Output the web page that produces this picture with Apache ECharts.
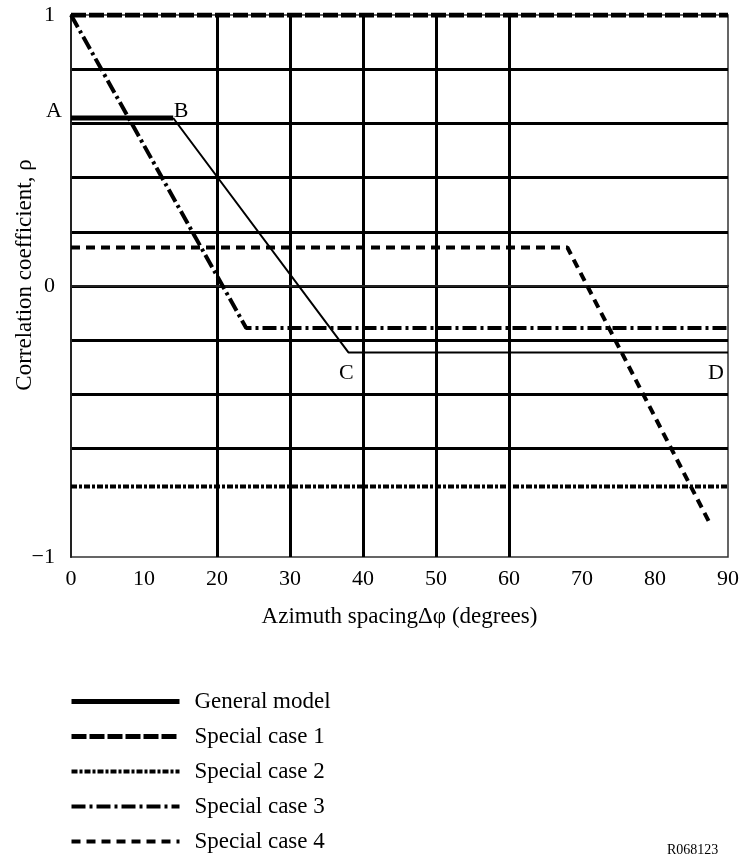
<!DOCTYPE html>
<html>
<head>
<meta charset="utf-8">
<script src="https://cdn.jsdelivr.net/npm/echarts@6/dist/echarts.min.js"></script>
<style>
html,body{margin:0;padding:0;background:#fff;}
#c{width:743px;height:854px;}
</style>
</head>
<body>
<div id="c"></div>
<script>
// Data
const seriesNames = ['General model', 'Special case 1', 'Special case 2', 'Special case 3', 'Special case 4'];
const generalAB = [[0, 0.62], [14, 0.62]];
const generalBCD = [[14, 0.62], [38, -0.245], [90, -0.245]];
const special1 = [[0, 1], [90, 1]];
const special2 = [[0, -0.74], [90, -0.74]];
const special3 = [[0, 1], [24, -0.155], [90, -0.155]];
const special4 = [[0, 0.142], [68, 0.142], [87.5, -0.875]];
const pointLabels = [['A', 0, 0.62], ['B', 14, 0.62], ['C', 38, -0.245], ['D', 90, -0.245]];
const xTicks = [0, 10, 20, 30, 40, 50, 60, 70, 80, 90];
const yTickLabels = {'1': '1', '0': '0', '-1': '\u22121'};

const FONT = 'Liberation Serif';
const chart = echarts.init(document.getElementById('c'), null, {renderer: 'canvas'});

const labelOffsets = {A: [-17, -7], B: [8, -7], C: [-2, 21], D: [-12, 21]};
const T = 'rgba(0,0,0,0)';

const option = {
  backgroundColor: '#fff',
  animation: false,
  textStyle: {fontFamily: FONT, color: '#000'},
  grid: {left: 71, right: 15, top: 15, bottom: 297, show: true, borderColor: '#333', borderWidth: 1.5,
         containLabel: false, outerBoundsMode: 'none'},
  xAxis: {
    type: 'value', min: 0, max: 90, interval: 10,
    name: 'Azimuth spacing\u0394\u03c6 (degrees)', nameLocation: 'middle', nameGap: 48, nameMoveOverlap: false,
    nameTextStyle: {fontFamily: FONT, fontSize: 23, color: '#000'},
    axisLine: {show: true, lineStyle: {color: '#222', width: 2}},
    axisTick: {show: false},
    axisLabel: {fontFamily: FONT, fontSize: 22, color: '#000', margin: 11,
      formatter: v => xTicks.indexOf(Math.round(v)) >= 0 ? String(Math.round(v)) : ''},
    splitLine: {show: true, lineStyle: {width: 3,
      color: [T, T, '#000', '#000', '#000', '#000', '#000', T, T, T]}}
  },
  yAxis: {
    type: 'value', min: -1, max: 1, interval: 0.2,
    name: 'Correlation coefficient, \u03c1', nameLocation: 'middle', nameGap: 35, nameMoveOverlap: false,
    nameTextStyle: {fontFamily: FONT, fontSize: 23, color: '#000', padding: [0, 0, 0, 22]},
    axisLine: {show: true, lineStyle: {color: '#222', width: 2}},
    axisTick: {show: false},
    axisLabel: {fontFamily: FONT, fontSize: 22, color: '#000', margin: 16, padding: [6, 0, 0, 0],
      formatter: v => { const k = String(Math.round(v * 10) / 10); return (Math.abs(v - Math.round(v)) < 1e-6 && yTickLabels[k]) ? yTickLabels[k] : ''; }},
    splitLine: {show: true, lineStyle: {width: 3,
      color: [T, T, '#000', '#000', '#000', '#000', '#000', '#000', '#000', '#000', T]}}
  },
  legend: {
    orient: 'vertical', left: 69, top: 690, height: 200, padding: 0,
    itemWidth: 108, itemHeight: 22, itemGap: 12,
    data: seriesNames,
    itemStyle: {opacity: 0},
    lineStyle: {width: 'inherit', type: 'inherit', color: '#000'},
    textStyle: {fontFamily: FONT, fontSize: 23, color: '#000', padding: [0, 0, 0, 10]},
    selectedMode: false
  },
  series: [
    {name: seriesNames[0], type: 'line', data: generalAB, symbol: 'none',
     itemStyle: {color: '#000'},
     lineStyle: {color: '#000', width: 5, type: 'solid'}, z: 5,
     markPoint: {symbol: 'circle', symbolSize: 1, itemStyle: {color: T},
       label: {show: true, formatter: '{b}', fontFamily: FONT, fontSize: 22, color: '#000'},
       data: pointLabels.map(p => ({name: p[0], coord: [p[1], p[2]], label: {offset: labelOffsets[p[0]]}}))}},
    {name: seriesNames[0], type: 'line', data: generalBCD, symbol: 'none', itemStyle: {color: '#000'},
     lineStyle: {color: '#000', width: 2, type: 'solid'}, z: 5},
    {name: seriesNames[1], type: 'line', data: special1, symbol: 'none', itemStyle: {color: '#000'},
     lineStyle: {color: '#000', width: 5, type: [15, 3]}, z: 6},
    {name: seriesNames[2], type: 'line', data: special2, symbol: 'none', itemStyle: {color: '#000'},
     lineStyle: {color: '#000', width: 4, type: [6, 2, 3, 2]}, z: 6},
    {name: seriesNames[3], type: 'line', data: special3, symbol: 'none', itemStyle: {color: '#000'},
     lineStyle: {color: '#000', width: 4, type: [14, 4, 3, 4]}, z: 6},
    {name: seriesNames[4], type: 'line', data: special4, symbol: 'none', itemStyle: {color: '#000'},
     lineStyle: {color: '#000', width: 4, type: [9, 6]}, z: 6}
  ],
  graphic: [{type: 'text', left: 667, top: 843, style: {text: 'R068123', font: '14px "Liberation Serif"', fill: '#000'}}]
};
chart.setOption(option);
</script>
</body>
</html>
